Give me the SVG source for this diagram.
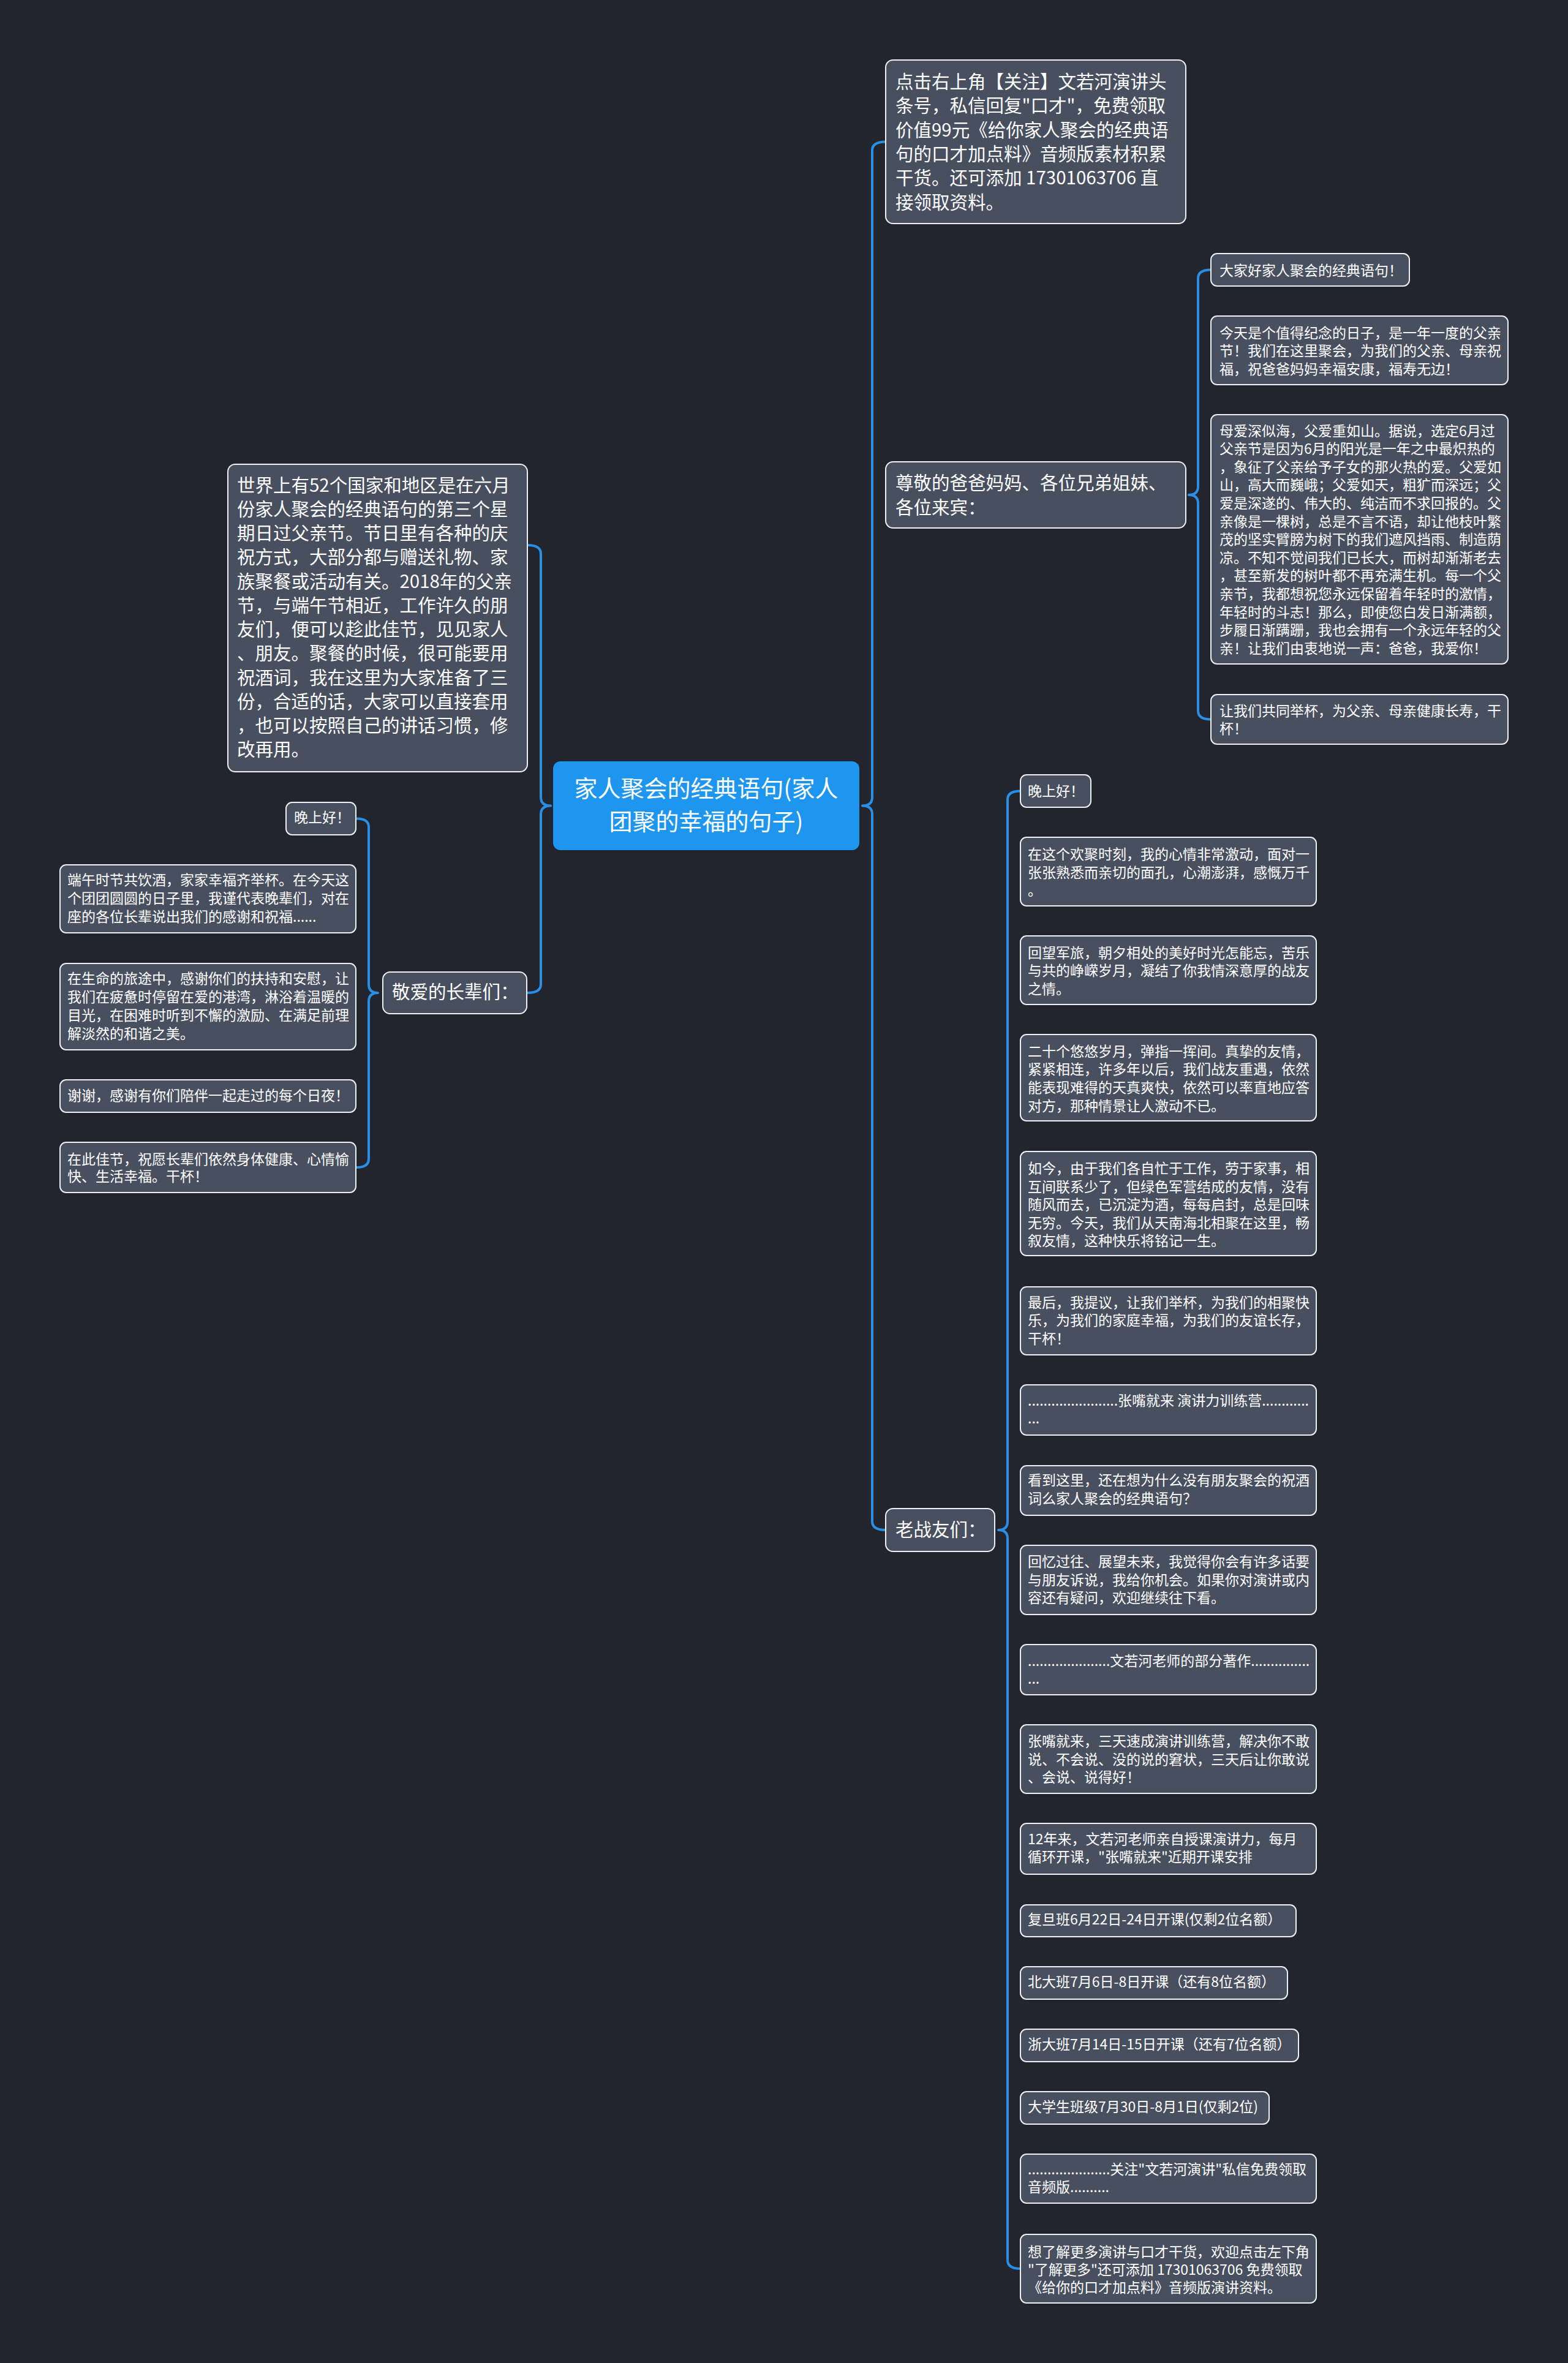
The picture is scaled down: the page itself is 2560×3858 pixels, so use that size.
<svg xmlns="http://www.w3.org/2000/svg" width="2560" height="3858" viewBox="0 0 2560 3858">
<style>
.n rect{fill:#484f5f;stroke:#eef0f4;stroke-width:2}
text{font-family:"Noto Sans CJK SC","Noto Sans",sans-serif;fill:#ffffff}
.t1{font-size:29.5px}
.t2{font-size:23px}
.t0{font-size:38px}
</style>
<rect x="0" y="0" width="2560" height="3858" fill="#22252e"/>
<g id="connectors" fill="none" stroke="#2a8fe4" stroke-width="4" stroke-linecap="round" stroke-linejoin="round">
<path d="M1446 231.5 Q1424 231.5 1424 245.5 L1424 1301.5 Q1424 1315.5 1408 1315.5 Q1424 1315.5 1424 1329.5 L1424 2484 Q1424 2498 1446 2498"/>
<path d="M861 890 Q883 890 883 904 L883 1301.5 Q883 1315.5 899 1315.5 Q883 1315.5 883 1329.5 L883 1607 Q883 1621 861 1621"/>
<path d="M582 1336.5 Q602 1336.5 602 1350.5 L602 1607 Q602 1621 617 1621 Q602 1621 602 1635 L602 1892 Q602 1906 582 1906"/>
<path d="M1977 440.5 Q1956 440.5 1956 454.5 L1956 794 Q1956 808 1941 808 Q1956 808 1956 822 L1956 1160.5 Q1956 1174.5 1977 1174.5"/>
<path d="M1666 1291.5 Q1645 1291.5 1645 1305.5 L1645 2484 Q1645 2498 1630 2498 Q1645 2498 1645 2512 L1645 3690 Q1645 3704 1666 3704"/>
</g>
<g id="root">
<rect x="903" y="1243" width="500" height="145" rx="12" fill="#1e96f0"/>
<text class="t0" text-anchor="middle"><tspan x="1153" y="1301">家人聚会的经典语句(家人</tspan><tspan x="1153" y="1355">团聚的幸福的句子)</tspan></text>
</g>
<g id="n-follow" class="n">
<rect x="1446" y="98" width="490" height="267" rx="12"/>
<text class="t1"><tspan x="1462" y="144">点击右上角【关注】文若河演讲头</tspan><tspan x="1462" y="183.3">条号，私信回复"口才"，免费领取</tspan><tspan x="1462" y="222.6">价值99元《给你家人聚会的经典语</tspan><tspan x="1462" y="261.9">句的口才加点料》音频版素材积累</tspan><tspan x="1462" y="301.2">干货。还可添加 17301063706 直</tspan><tspan x="1462" y="340.5">接领取资料。</tspan></text>
</g>
<g id="n-zunjing" class="n">
<rect x="1446" y="754" width="490" height="108" rx="12"/>
<text class="t1"><tspan x="1462" y="799">尊敬的爸爸妈妈、各位兄弟姐妹、</tspan><tspan x="1462" y="838.5">各位来宾：</tspan></text>
</g>
<g id="n-laozhanyou" class="n">
<rect x="1446" y="2463" width="178" height="70" rx="12"/>
<text class="t1"><tspan x="1462" y="2507.5">老战友们：</tspan></text>
</g>
<g id="n-shijie" class="n">
<rect x="372" y="758" width="489" height="502" rx="12"/>
<text class="t1"><tspan x="387" y="802.5">世界上有52个国家和地区是在六月</tspan><tspan x="387" y="841.75">份家人聚会的经典语句的第三个星</tspan><tspan x="387" y="881">期日过父亲节。节日里有各种的庆</tspan><tspan x="387" y="920.25">祝方式，大部分都与赠送礼物、家</tspan><tspan x="387" y="959.5">族聚餐或活动有关。2018年的父亲</tspan><tspan x="387" y="998.75">节，与端午节相近，工作许久的朋</tspan><tspan x="387" y="1038">友们，便可以趁此佳节，见见家人</tspan><tspan x="387" y="1077.25">、朋友。聚餐的时候，很可能要用</tspan><tspan x="387" y="1116.5">祝酒词，我在这里为大家准备了三</tspan><tspan x="387" y="1155.75">份，合适的话，大家可以直接套用</tspan><tspan x="387" y="1195">，也可以按照自己的讲话习惯，修</tspan><tspan x="387" y="1234.25">改再用。</tspan></text>
</g>
<g id="n-jingai" class="n">
<rect x="625" y="1587" width="235" height="68" rx="12"/>
<text class="t1"><tspan x="640" y="1630">敬爱的长辈们：</tspan></text>
</g>
<g id="n-dajiahao" class="n">
<rect x="1977" y="414" width="324" height="53" rx="10"/>
<text class="t2"><tspan x="1991" y="449.5">大家好家人聚会的经典语句！</tspan></text>
</g>
<g id="n-jintian" class="n">
<rect x="1977" y="516" width="485" height="112" rx="10"/>
<text class="t2"><tspan x="1991" y="551.5">今天是个值得纪念的日子，是一年一度的父亲</tspan><tspan x="1991" y="581">节！我们在这里聚会，为我们的父亲、母亲祝</tspan><tspan x="1991" y="610.5">福，祝爸爸妈妈幸福安康，福寿无边！</tspan></text>
</g>
<g id="n-muai" class="n">
<rect x="1977" y="677" width="485" height="407" rx="10"/>
<text class="t2"><tspan x="1991" y="711.5">母爱深似海，父爱重如山。据说，选定6月过</tspan><tspan x="1991" y="741.1">父亲节是因为6月的阳光是一年之中最炽热的</tspan><tspan x="1991" y="770.7">，象征了父亲给予子女的那火热的爱。父爱如</tspan><tspan x="1991" y="800.3">山，高大而巍峨；父爱如天，粗犷而深远；父</tspan><tspan x="1991" y="829.9">爱是深遂的、伟大的、纯洁而不求回报的。父</tspan><tspan x="1991" y="859.5">亲像是一棵树，总是不言不语，却让他枝叶繁</tspan><tspan x="1991" y="889.1">茂的坚实臂膀为树下的我们遮风挡雨、制造荫</tspan><tspan x="1991" y="918.7">凉。不知不觉间我们已长大，而树却渐渐老去</tspan><tspan x="1991" y="948.3">，甚至新发的树叶都不再充满生机。每一个父</tspan><tspan x="1991" y="977.9">亲节，我都想祝您永远保留着年轻时的激情，</tspan><tspan x="1991" y="1007.5">年轻时的斗志！那么，即使您白发日渐满额，</tspan><tspan x="1991" y="1037.1">步履日渐蹒跚，我也会拥有一个永远年轻的父</tspan><tspan x="1991" y="1066.7">亲！让我们由衷地说一声：爸爸，我爱你！</tspan></text>
</g>
<g id="n-rangwomen" class="n">
<rect x="1977" y="1134" width="485" height="81" rx="10"/>
<text class="t2"><tspan x="1991" y="1168.5">让我们共同举杯，为父亲、母亲健康长寿，干</tspan><tspan x="1991" y="1197.5">杯！</tspan></text>
</g>
<g id="n-wanshanghao-l" class="n">
<rect x="467" y="1310" width="114" height="53" rx="10"/>
<text class="t2"><tspan x="480" y="1343">晚上好！</tspan></text>
</g>
<g id="n-duanwu" class="n">
<rect x="98" y="1412" width="483" height="111" rx="10"/>
<text class="t2"><tspan x="110" y="1444.5">端午时节共饮酒，家家幸福齐举杯。在今天这</tspan><tspan x="110" y="1474.5">个团团圆圆的日子里，我谨代表晚辈们，对在</tspan><tspan x="110" y="1504.5">座的各位长辈说出我们的感谢和祝福......</tspan></text>
</g>
<g id="n-shengming" class="n">
<rect x="98" y="1573" width="483" height="141" rx="10"/>
<text class="t2"><tspan x="110" y="1606">在生命的旅途中，感谢你们的扶持和安慰，让</tspan><tspan x="110" y="1636">我们在疲惫时停留在爱的港湾，淋浴着温暖的</tspan><tspan x="110" y="1666">目光，在困难时听到不懈的激励、在满足前理</tspan><tspan x="110" y="1696">解淡然的和谐之美。</tspan></text>
</g>
<g id="n-xiexie" class="n">
<rect x="98" y="1763" width="483" height="53" rx="10"/>
<text class="t2"><tspan x="110" y="1797">谢谢，感谢有你们陪伴一起走过的每个日夜！</tspan></text>
</g>
<g id="n-jiajie" class="n">
<rect x="98" y="1865" width="483" height="82" rx="10"/>
<text class="t2"><tspan x="110" y="1900.5">在此佳节，祝愿长辈们依然身体健康、心情愉</tspan><tspan x="110" y="1928.5">快、生活幸福。干杯！</tspan></text>
</g>
<g id="n-wanshanghao-r" class="n">
<rect x="1666" y="1265" width="115" height="53" rx="10"/>
<text class="t2"><tspan x="1678" y="1299.5">晚上好！</tspan></text>
</g>
<g id="n-huanju" class="n">
<rect x="1666" y="1367" width="483" height="112" rx="10"/>
<text class="t2"><tspan x="1678" y="1403">在这个欢聚时刻，我的心情非常激动，面对一</tspan><tspan x="1678" y="1432.5">张张熟悉而亲切的面孔，心潮澎湃，感慨万千</tspan><tspan x="1678" y="1462">。</tspan></text>
</g>
<g id="n-junlv" class="n">
<rect x="1666" y="1528" width="483" height="112" rx="10"/>
<text class="t2"><tspan x="1678" y="1563.5">回望军旅，朝夕相处的美好时光怎能忘，苦乐</tspan><tspan x="1678" y="1593">与共的峥嵘岁月，凝结了你我情深意厚的战友</tspan><tspan x="1678" y="1623">之情。</tspan></text>
</g>
<g id="n-ershi" class="n">
<rect x="1666" y="1689" width="483" height="141" rx="10"/>
<text class="t2"><tspan x="1678" y="1724.5">二十个悠悠岁月，弹指一挥间。真挚的友情，</tspan><tspan x="1678" y="1754">紧紧相连，许多年以后，我们战友重遇，依然</tspan><tspan x="1678" y="1784">能表现难得的天真爽快，依然可以率直地应答</tspan><tspan x="1678" y="1813.5">对方，那种情景让人激动不已。</tspan></text>
</g>
<g id="n-rujin" class="n">
<rect x="1666" y="1880" width="483" height="170" rx="10"/>
<text class="t2"><tspan x="1678" y="1916">如今，由于我们各自忙于工作，劳于家事，相</tspan><tspan x="1678" y="1945.5">互间联系少了，但绿色军营结成的友情，没有</tspan><tspan x="1678" y="1975">随风而去，已沉淀为酒，每每启封，总是回味</tspan><tspan x="1678" y="2004.5">无穷。今天，我们从天南海北相聚在这里，畅</tspan><tspan x="1678" y="2034">叙友情，这种快乐将铭记一生。</tspan></text>
</g>
<g id="n-zuihou" class="n">
<rect x="1666" y="2101" width="483" height="111" rx="10"/>
<text class="t2"><tspan x="1678" y="2134.5">最后，我提议，让我们举杯，为我们的相聚快</tspan><tspan x="1678" y="2164">乐，为我们的家庭幸福，为我们的友谊长存，</tspan><tspan x="1678" y="2193.5">干杯！</tspan></text>
</g>
<g id="n-dots1" class="n">
<rect x="1666" y="2261" width="483" height="82" rx="10"/>
<text class="t2"><tspan x="1678" y="2294.5">.......................张嘴就来 演讲力训练营............</tspan><tspan x="1678" y="2324">...</tspan></text>
</g>
<g id="n-kandao" class="n">
<rect x="1666" y="2393" width="483" height="81" rx="10"/>
<text class="t2"><tspan x="1678" y="2425">看到这里，还在想为什么没有朋友聚会的祝酒</tspan><tspan x="1678" y="2454.5">词么家人聚会的经典语句？</tspan></text>
</g>
<g id="n-huiyi" class="n">
<rect x="1666" y="2523" width="483" height="113" rx="10"/>
<text class="t2"><tspan x="1678" y="2558">回忆过往、展望未来，我觉得你会有许多话要</tspan><tspan x="1678" y="2588">与朋友诉说，我给你机会。如果你对演讲或内</tspan><tspan x="1678" y="2617">容还有疑问，欢迎继续往下看。</tspan></text>
</g>
<g id="n-dots2" class="n">
<rect x="1666" y="2685" width="483" height="82" rx="10"/>
<text class="t2"><tspan x="1678" y="2719.5">.....................文若河老师的部分著作...............</tspan><tspan x="1678" y="2749">...</tspan></text>
</g>
<g id="n-zhangzui" class="n">
<rect x="1666" y="2816" width="483" height="112" rx="10"/>
<text class="t2"><tspan x="1678" y="2851">张嘴就来，三天速成演讲训练营，解决你不敢</tspan><tspan x="1678" y="2881">说、不会说、没的说的窘状，三天后让你敢说</tspan><tspan x="1678" y="2910">、会说、说得好！</tspan></text>
</g>
<g id="n-12nian" class="n">
<rect x="1666" y="2977" width="483" height="83" rx="10"/>
<text class="t2"><tspan x="1678" y="3010.5">12年来，文若河老师亲自授课演讲力，每月</tspan><tspan x="1678" y="3040">循环开课，"张嘴就来"近期开课安排</tspan></text>
</g>
<g id="n-fudan" class="n">
<rect x="1666" y="3110" width="450" height="52" rx="10"/>
<text class="t2"><tspan x="1678" y="3142">复旦班6月22日-24日开课(仅剩2位名额）</tspan></text>
</g>
<g id="n-beida" class="n">
<rect x="1666" y="3211" width="436" height="53" rx="10"/>
<text class="t2"><tspan x="1678" y="3244">北大班7月6日-8日开课（还有8位名额）</tspan></text>
</g>
<g id="n-zheda" class="n">
<rect x="1666" y="3313" width="454" height="53" rx="10"/>
<text class="t2"><tspan x="1678" y="3346">浙大班7月14日-15日开课（还有7位名额）</tspan></text>
</g>
<g id="n-daxuesheng" class="n">
<rect x="1666" y="3415" width="406" height="53" rx="10"/>
<text class="t2"><tspan x="1678" y="3448">大学生班级7月30日-8月1日(仅剩2位)</tspan></text>
</g>
<g id="n-guanzhu" class="n">
<rect x="1666" y="3517" width="483" height="80" rx="10"/>
<text class="t2"><tspan x="1678" y="3550">.....................关注"文若河演讲"私信免费领取</tspan><tspan x="1678" y="3579">音频版..........</tspan></text>
</g>
<g id="n-liaojie" class="n">
<rect x="1666" y="3648" width="483" height="112" rx="10"/>
<text class="t2"><tspan x="1678" y="3684.5">想了解更多演讲与口才干货，欢迎点击左下角</tspan><tspan x="1678" y="3713.5">"了解更多"还可添加 17301063706 免费领取</tspan><tspan x="1678" y="3743">《给你的口才加点料》音频版演讲资料。</tspan></text>
</g>
</svg>
